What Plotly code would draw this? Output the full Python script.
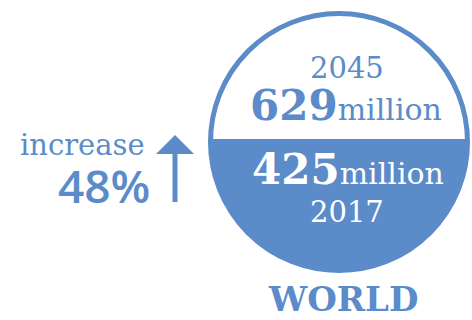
import numpy as np
import plotly.graph_objects as go

# ---- data ----
years = [2045, 2017]
values_million = [629, 425]
increase_pct = 48
region = "WORLD"

BLUE = "#5b8bc9"
W, H = 472, 320
cx, cy, r_out, stroke = 339, 142, 131, 5
split_y = 139

fig = go.Figure()

# lower filled segment
r_fill = r_out - 1
t0 = np.arcsin((cy - split_y) / r_fill)
t = np.linspace(-t0, np.pi + t0, 200)
xs = cx + r_fill * np.cos(t)
ys = cy + r_fill * np.sin(t)
fig.add_trace(go.Scatter(x=np.append(xs, xs[0]), y=np.append(ys, ys[0]), mode="lines",
                         fill="toself", fillcolor=BLUE, line=dict(width=0, color=BLUE),
                         hoverinfo="skip", showlegend=False))

rc = r_out - stroke / 2
shapes = [
    dict(type="circle", xref="x", yref="y", x0=cx - rc, x1=cx + rc, y0=cy - rc, y1=cy + rc,
         line=dict(color=BLUE, width=stroke)),
    dict(type="line", xref="x", yref="y", x0=175, x1=175, y0=150, y1=202,
         line=dict(color=BLUE, width=5)),
    dict(type="path", xref="x", yref="y", path="M156,154 L194,154 L175,135 Z",
         fillcolor=BLUE, line=dict(width=0)),
]

serif = "DejaVu Serif"
ann = [
    dict(x=347, y=68, text=str(years[0]), font=dict(family=serif, size=29, color=BLUE)),
    dict(x=346, y=105, text=f"<b>{values_million[0]}</b><span style='font-size:30px'>million</span>",
         font=dict(family=serif, size=42, color=BLUE)),
    dict(x=348, y=169, text=f"<b>{values_million[1]}</b><span style='font-size:30px'>million</span>",
         font=dict(family=serif, size=42, color="white")),
    dict(x=347, y=212, text=str(years[1]), font=dict(family=serif, size=29, color="white")),
    dict(x=343, y=299, text=f"<b>{region}</b>", font=dict(family=serif, size=34, color=BLUE),
         borderpad=0),
    dict(x=82, y=145, text="increase", font=dict(family=serif, size=29, color=BLUE), borderpad=0),
    dict(x=104, y=185, text=f"{increase_pct}%", font=dict(family="Open Sans", size=46, color=BLUE, weight=600),
         borderpad=0),
]
for a in ann:
    a.update(xref="x", yref="y", showarrow=False, xanchor="center", yanchor="middle")

fig.update_layout(
    width=W, height=H, margin=dict(l=0, r=0, t=0, b=0),
    paper_bgcolor="white", plot_bgcolor="white",
    xaxis=dict(range=[0, W], visible=False, fixedrange=True),
    yaxis=dict(range=[H, 0], visible=False, fixedrange=True),
    shapes=shapes, annotations=ann,
)
fig.write_html("out.html")
